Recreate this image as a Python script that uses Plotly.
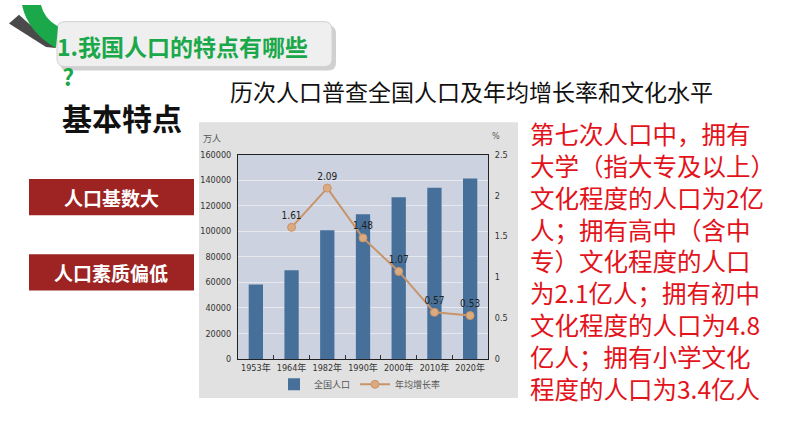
import plotly.graph_objects as go

W, H = 794, 447

years = ["1953年", "1964年", "1982年", "1990年", "2000年", "2010年", "2020年"]
population = [58260, 69458, 100818, 113368, 126583, 133972, 141178]
growth = [None, 1.61, 2.09, 1.48, 1.07, 0.57, 0.53]
growth_labels = ["", "1.61", "2.09", "1.48", "1.07", "0.57", "0.53"]

title_text = "历次人口普查全国人口及年均增长率和文化水平"
header_lines = ["1.我国人口的特点有哪些", " ?"]
right_lines = [
    "第七次人口中，拥有",
    "大学（指大专及以上）",
    "文化程度的人口为2亿",
    "人；拥有高中（含中",
    "专）文化程度的人口",
    "为2.1亿人；拥有初中",
    "文化程度的人口为4.8",
    "亿人；拥有小学文化",
    "程度的人口为3.4亿人",
]


def px(x):
    return x / W


def py(y):
    return 1 - y / H


def P(x, y):
    return f"{px(x):.5f},{py(y):.5f}"


# plot area in pixels
PL, PR, PT, PB = 238, 488, 153, 362

CJK = "Noto Sans CJK SC, Noto Sans, sans-serif"
NARROW = "Liberation Sans Narrow, DejaVu Sans Condensed, Noto Sans CJK SC, sans-serif"

fig = go.Figure()

fig.add_trace(go.Bar(
    x=years, y=population, name="全国人口",
    marker=dict(color="#46709a", line=dict(width=0)),
    width=0.4, yaxis="y",
))
fig.add_trace(go.Scatter(
    x=years, y=growth, name="年均增长率", yaxis="y2",
    mode="lines+markers+text", text=growth_labels, textposition="top center",
    textfont=dict(size=10, color="#222222", family=NARROW),
    line=dict(color="#c8946a", width=2),
    marker=dict(size=8, color="#dcaa80", line=dict(color="#c8946a", width=1)),
    connectgaps=False,
))


def rr(x0, y0, x1, y1, r):
    return (f"M {P(x0 + r, y0)} L {P(x1 - r, y0)} Q {P(x1, y0)} {P(x1, y0 + r)} "
            f"L {P(x1, y1 - r)} Q {P(x1, y1)} {P(x1 - r, y1)} L {P(x0 + r, y1)} "
            f"Q {P(x0, y1)} {P(x0, y1 - r)} L {P(x0, y0 + r)} Q {P(x0, y0)} {P(x0 + r, y0)} Z")


shapes = []
shapes.append(dict(type="rect", xref="paper", yref="paper", layer="below",
                   x0=px(199), x1=px(518), y0=py(402), y1=py(120),
                   fillcolor="#e1e1e1", line=dict(width=0)))
shapes.append(dict(type="rect", xref="paper", yref="paper", layer="below",
                   x0=px(PL), x1=px(PR), y0=py(PB), y1=py(PT),
                   fillcolor="#ccd2e0", line=dict(width=0)))
shapes.append(dict(type="path", xref="paper", yref="paper", layer="below",
                   path=rr(60, 21, 336, 67, 8), fillcolor="rgba(120,120,120,0.35)",
                   line=dict(width=0)))
shapes.append(dict(type="path", xref="paper", yref="paper", layer="below",
                   path=rr(57, 17, 332, 63, 8), fillcolor="#efefef",
                   line=dict(color="#d2d2d2", width=1)))
shapes.append(dict(type="path", xref="paper", yref="paper", layer="below",
                   path=f"M {P(9, 19)} L {P(19, 10)} L {P(56, 44)} L {P(46, 43)} Z",
                   fillcolor="#4a4a4a", line=dict(width=0)))
shapes.append(dict(type="path", xref="paper", yref="paper", layer="below",
                   path=(f"M {P(22, 0)} Q {P(28, 28)} {P(56, 44)} L {P(58, 22)} "
                         f"Q {P(44, 14)} {P(41, 0)} Z"),
                   fillcolor="#1aa84a", line=dict(width=0)))
for y0, y1 in [(178, 215), (255, 292)]:
    shapes.append(dict(type="rect", xref="paper", yref="paper", layer="below",
                       x0=px(29), x1=px(194), y0=py(y1), y1=py(y0),
                       fillcolor="#9e2424", line=dict(width=0)))


def A(text, x, y, size, color, xanchor="left", bold=False, family=CJK, height=None):
    f = dict(family=family, size=size, color=color)
    if bold:
        f["weight"] = "bold"
    d = dict(text=text, xref="paper", yref="paper", x=px(x), y=py(y),
             xanchor=xanchor, yanchor="middle", showarrow=False, font=f, borderpad=0,
             align="left")
    if height:
        d["height"] = height
    return d


ann = []
ann.append(A("<br>".join(header_lines), 56, 57, 23, "#1aa84a", bold=True))
ann.append(A(title_text, 229, 88, 23, "#111111"))
ann.append(A("基本特点", 61, 115, 30, "#111111", bold=True))
ann.append(A("人口基数大", 111, 197, 19, "#ffffff", xanchor="center", bold=True))
ann.append(A("人口素质偏低", 111, 274, 19, "#ffffff", xanchor="center", bold=True))
ann.append(A("<br>".join(right_lines), 529, 262, 24.5, "#e3131b"))
ann.append(A("万人", 212, 137, 9, "#555555", xanchor="center", family=NARROW))
ann.append(A("%", 496, 134, 9, "#555555", xanchor="center", family=NARROW))

fig.update_layout(
    width=W, height=H, autosize=False,
    margin=dict(l=0, r=0, t=0, b=0, pad=0),
    paper_bgcolor="#ffffff", plot_bgcolor="rgba(0,0,0,0)",
    shapes=shapes, annotations=ann,
    showlegend=True,
    legend=dict(orientation="h", x=px(360), y=py(388), xanchor="center", yanchor="middle",
                font=dict(family=NARROW, size=9, color="#555555"), bgcolor="rgba(0,0,0,0)",
                tracegroupgap=0, itemwidth=30),
    xaxis=dict(domain=[px(PL), px(PR)], type="category", showline=True, linecolor="#222222",
               linewidth=1, mirror=True, ticks="inside", tickson="boundaries", ticklen=4,
               tickcolor="#333333", tickfont=dict(family=NARROW, size=9, color="#333333"),
               showgrid=False, fixedrange=True, tickangle=0),
    yaxis=dict(domain=[py(PB), py(PT)], range=[0, 160000], dtick=20000, showline=True,
               linecolor="#222222", linewidth=1, gridcolor="#e6e8ee", gridwidth=1,
               tickfont=dict(family=NARROW, size=9, color="#333333"), ticks="",
               zeroline=False, tickformat="d", ticklabelstandoff=4),
    yaxis2=dict(overlaying="y", side="right", range=[0, 2.5], dtick=0.5, showline=True,
                linecolor="#222222", linewidth=1, showgrid=False, zeroline=False,
                tickfont=dict(family=NARROW, size=9, color="#333333"), ticks="",
                ticklabelstandoff=4, anchor="x"),
)

fig.write_html("out.html")
